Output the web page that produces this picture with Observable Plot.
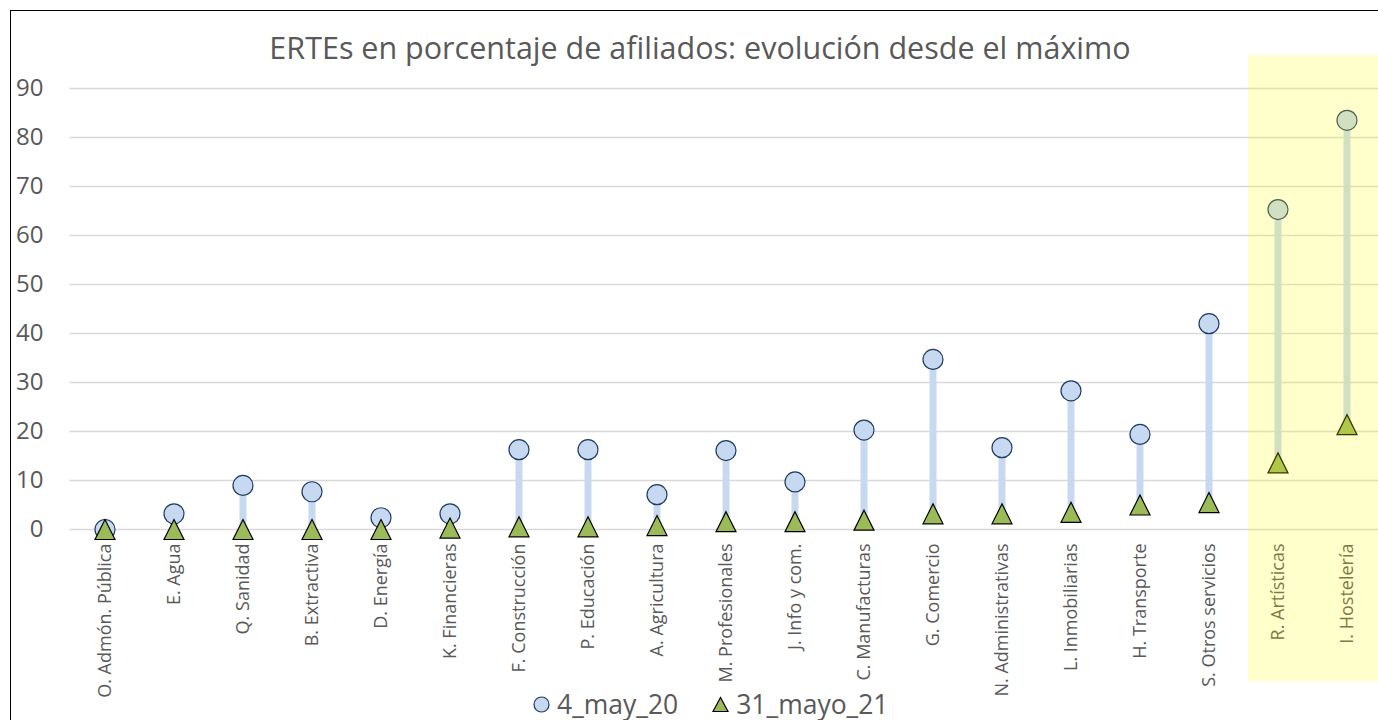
<!DOCTYPE html>
<html>
<head>
<meta charset="utf-8">
<script src="https://cdn.jsdelivr.net/npm/d3@7"></script>
<script src="https://cdn.jsdelivr.net/npm/@observablehq/plot@0.6"></script>
<style>
  html, body { margin: 0; padding: 0; background: #fff; overflow: hidden; width: 1378px; height: 720px; }
  #wrap { position: relative; width: 1378px; height: 720px; font-family: "Open Sans", sans-serif; }
  #frame { position: absolute; left: 10px; top: 10px; width: 2000px; height: 2000px; border-left: 1.5px solid #000; border-top: 1.5px solid #000; pointer-events: none; z-index: 5; }
  #title { height: 55px; position: relative; }
  #title span { position: absolute; left: 0; width: 1400px; text-align: center; top: 32px; font-size: 30.5px; color: #595959; line-height: 1; }
  #chart svg { display: block; max-width: none; }
  #legend { position: absolute; top: 689px; left: 533px; height: 30px; display: flex; align-items: center; font-size: 26.5px; color: #595959; }
  #legend .item { display: flex; align-items: center; margin-right: 34px; }
  #legend svg { margin-right: 7px; }
</style>
</head>
<body>
<div id="wrap">
  <div id="frame"></div>
  <div id="title"><span>ERTEs en porcentaje de afiliados: evolución desde el máximo</span></div>
  <div id="chart"></div>
  <div id="legend"></div>
</div>
<script>
const categories = ["O. Admón. Pública", "E. Agua", "Q. Sanidad", "B. Extractiva", "D. Energía", "K. Financieras", "F. Construcción", "P. Educación", "A. Agricultura", "M. Profesionales", "J. Info y com.", "C. Manufacturas", "G. Comercio", "N. Administrativas", "L. Inmobiliarias", "H. Transporte", "S. Otros servicios", "R. Artísticas", "I. Hostelería"];
const may20 = [0, 3.2, 9.0, 7.7, 2.4, 3.2, 16.3, 16.3, 7.1, 16.1, 9.7, 20.3, 34.7, 16.7, 28.3, 19.4, 42.0, 65.3, 83.5];
const mayo21 = [0, 0, 0, 0, 0, 0.3, 0.55, 0.55, 0.8, 1.6, 1.6, 1.9, 3.2, 3.2, 3.5, 5.0, 5.5, 13.6, 21.4];
const yTicks = [0, 10, 20, 30, 40, 50, 60, 70, 80, 90];
const highlighted = ["R. Artísticas", "I. Hostelería"];
const seriesNames = ["4_may_20", "31_mayo_21"];

const rows = categories.map((c, i) => ({cat: c, a: may20[i], b: mayo21[i]}));

const tri = {
  draw(ctx, size) {
    const r = Math.sqrt(size / Math.PI);
    ctx.moveTo(0, -r);
    ctx.lineTo(r, r);
    ctx.lineTo(-r, r);
    ctx.closePath();
  }
};

const chart = Plot.plot({
  width: 1400,
  height: 635,
  marginLeft: 69.5,
  marginRight: 18.5,
  marginTop: 33,
  marginBottom: 161,
  style: {fontFamily: "Open Sans, sans-serif", background: "transparent", maxWidth: "none", overflow: "visible"},
  x: {type: "band", domain: categories, padding: 0},
  y: {domain: [0, 90]},
  marks: [
    Plot.ruleY(yTicks, {stroke: "#d9d9d9", strokeWidth: 1.3}),
    Plot.axisY(yTicks, {tickSize: 0, tickPadding: 26.5, fontSize: 24, fill: "#595959", label: null}),
    Plot.axisX({tickRotate: -90, tickSize: 0, tickPadding: 14, fontSize: 18, fill: "#595959", label: null}),
    Plot.ruleX(rows, {x: "cat", y1: "b", y2: "a", stroke: "#c6d9f1", strokeWidth: 7}),
    Plot.dot(rows, {x: "cat", y: "a", r: 10, fill: "#c6d9f1", stroke: "#1f3b63", strokeWidth: 1.2}),
    Plot.dot(rows, {x: "cat", y: "b", r: 10, symbol: tri, fill: "#9bbb59", stroke: "#000", strokeWidth: 1.2}),
    Plot.barY([highlighted[0]], {x: d => d, y1: -31, y2: 96.7, fill: "#ffff00", fillOpacity: 0.2, insetLeft: 5}),
    Plot.barY([highlighted[1]], {x: d => d, y1: -31, y2: 96.7, fill: "#ffff00", fillOpacity: 0.2})
  ]
});
document.getElementById("chart").appendChild(chart);

// legend
const legend = document.getElementById("legend");
const mk = (shape, name) => {
  const item = document.createElement("div");
  item.className = "item";
  const s = d3.create("svg").attr("width", 17).attr("height", 17);
  if (shape === "circle") {
    s.append("circle").attr("cx", 8.5).attr("cy", 8.5).attr("r", 7.5).attr("fill", "#c6d9f1").attr("stroke", "#1f3b63").attr("stroke-width", 1.2);
  } else {
    s.append("path").attr("d", "M8.5,1.5L16,15.5L1,15.5Z").attr("fill", "#9bbb59").attr("stroke", "#000").attr("stroke-width", 1.2);
  }
  item.appendChild(s.node());
  const t = document.createElement("span");
  t.textContent = name;
  item.appendChild(t);
  legend.appendChild(item);
};
mk("circle", seriesNames[0]);
mk("triangle", seriesNames[1]);
</script>
</body>
</html>
